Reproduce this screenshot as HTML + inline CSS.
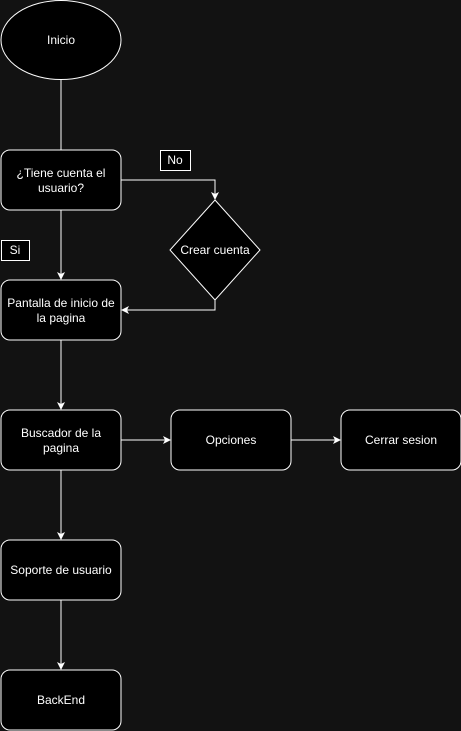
<!DOCTYPE html>
<html><head><style>
html,body{margin:0;padding:0;background:#121212;}
svg{display:block;}
text{font-family:"Liberation Sans",Arial,sans-serif;font-size:12px;fill:#fff;text-anchor:middle;}
</style></head><body>
<svg width="461" height="731" viewBox="0 0 461 731">
<rect width="461" height="731" fill="#121212"/>
<defs><marker id="a" markerWidth="8" markerHeight="8" refX="7" refY="4" orient="auto" markerUnits="userSpaceOnUse"><path d="M0,0 L8,4 L0,8 L2,4 Z" fill="#fff"/></marker></defs>
<g stroke="#fff" fill="none" stroke-width="1">
<line x1="61" y1="80" x2="61" y2="150"/>
<polyline points="121,180 215,180 215,199" marker-end="url(#a)"/>
<line x1="61" y1="210" x2="61" y2="279" marker-end="url(#a)"/>
<polyline points="215,300 215,310 122,310" marker-end="url(#a)"/>
<line x1="61" y1="340" x2="61" y2="409" marker-end="url(#a)"/>
<line x1="121" y1="440" x2="170" y2="440" marker-end="url(#a)"/>
<line x1="291" y1="440" x2="340" y2="440" marker-end="url(#a)"/>
<line x1="61" y1="470" x2="61" y2="539" marker-end="url(#a)"/>
<line x1="61" y1="600" x2="61" y2="669" marker-end="url(#a)"/>
</g>
<g stroke="#fff" fill="#000" stroke-width="1">
<ellipse cx="61" cy="40" rx="60" ry="39.5"/>
<rect x="1" y="150" width="120" height="60" rx="9"/>
<polygon points="215,200 260,250 215,300 170,250"/>
<rect x="1" y="280" width="120" height="60" rx="9"/>
<rect x="1" y="410" width="120" height="60" rx="9"/>
<rect x="171" y="410" width="120" height="60" rx="9"/>
<rect x="341" y="410" width="120" height="60" rx="9"/>
<rect x="1" y="540" width="120" height="60" rx="9"/>
<rect x="1" y="670" width="120" height="60" rx="9"/>
<rect x="160.5" y="150.5" width="30" height="20"/>
<rect x="1.5" y="240.5" width="28" height="20"/>
</g>
<text x="61" y="44">Inicio</text>
<text x="61" y="177">¿Tiene cuenta el</text>
<text x="61" y="192">usuario?</text>
<text x="175" y="164">No</text>
<text x="15" y="254">Si</text>
<text x="215" y="254">Crear cuenta</text>
<text x="61" y="307">Pantalla de inicio de</text>
<text x="61" y="322">la pagina</text>
<text x="61" y="437">Buscador de la</text>
<text x="61" y="452">pagina</text>
<text x="231" y="444">Opciones</text>
<text x="401" y="444">Cerrar sesion</text>
<text x="61" y="574">Soporte de usuario</text>
<text x="61" y="704">BackEnd</text>
</svg>
</body></html>
